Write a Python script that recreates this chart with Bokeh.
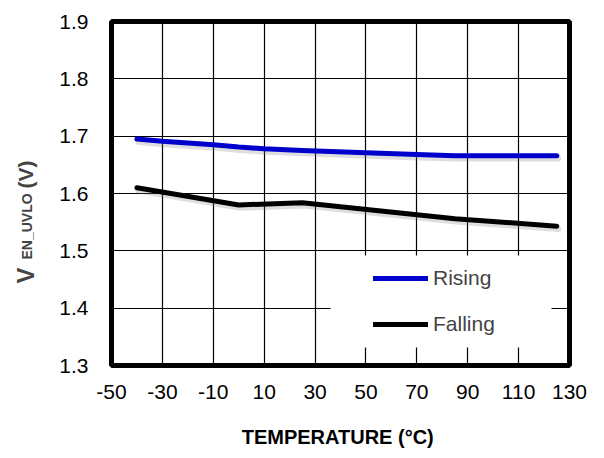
import math
from bokeh.plotting import figure
from bokeh.layouts import row
from bokeh.models import Range1d, FixedTicker, Label, Legend, BoxAnnotation
from bokeh.embed import file_html
from bokeh.resources import INLINE

# ---- data ----
temps_rising = [-40, -30, -10, 0, 10, 25, 50, 70, 85, 105, 125]
v_rising = [1.695, 1.691, 1.685, 1.681, 1.678, 1.675, 1.671, 1.668, 1.666, 1.666, 1.666]
temps_falling = [-40, 0, 25, 85, 125]
v_falling = [1.610, 1.580, 1.584, 1.556, 1.543]

x_ticks = [-50, -30, -10, 10, 30, 50, 70, 90, 110, 130]
x_tick_labels = ["-50", "-30", "-10", "10", "30", "50", "70", "90", "110", "130"]
y_ticks = [1.3, 1.4, 1.5, 1.6, 1.7, 1.8, 1.9]
y_tick_labels = ["1.3", "1.4", "1.5", "1.6", "1.7", "1.8", "1.9"]

series_names = ["Rising", "Falling"]
x_title = "TEMPERATURE  (°C)"
y_title_main, y_title_sub, y_title_unit = "V", "EN_UVLO", "(V)"

FONT = "Liberation Sans"
LEFT_W = 50

# ---- narrow strip holding the rotated y-axis title ----
strip = figure(width=LEFT_W, height=458, x_range=Range1d(0, 1), y_range=Range1d(0, 1),
               output_backend="svg", toolbar_location=None,
               x_axis_location=None, y_axis_location=None, min_border=0)
strip.outline_line_color = None
strip.background_fill_color = "white"
strip.border_fill_color = "white"
strip.xgrid.visible = False
strip.ygrid.visible = False
strip.add_layout(Label(x=25, y=82, x_units="screen", y_units="screen", text=y_title_main,
                       angle=math.pi / 2, text_align="left", text_baseline="alphabetic",
                       text_font=FONT, text_font_style="bold", text_font_size="24px"))
strip.add_layout(Label(x=26, y=106, x_units="screen", y_units="screen", text=y_title_sub,
                       angle=math.pi / 2, text_align="left", text_baseline="alphabetic",
                       text_font=FONT, text_font_style="bold", text_font_size="14px"))
strip.add_layout(Label(x=25, y=177, x_units="screen", y_units="screen", text=y_title_unit,
                       angle=math.pi / 2, text_align="left", text_baseline="alphabetic",
                       text_font=FONT, text_font_style="bold", text_font_size="21px"))

# ---- main chart ----
p = figure(width=604 - LEFT_W, height=458,
           x_range=Range1d(-50, 130), y_range=Range1d(1.3, 1.9),
           output_backend="svg", toolbar_location=None,
           min_border_left=111 - LEFT_W, min_border_right=35,
           min_border_top=21, min_border_bottom=93)
p.background_fill_color = "white"
p.border_fill_color = "white"
p.outline_line_color = "black"
p.outline_line_width = 5

p.xaxis.ticker = FixedTicker(ticks=x_ticks)
p.yaxis.ticker = FixedTicker(ticks=y_ticks)
p.xaxis.major_label_overrides = dict(zip(x_ticks, x_tick_labels))
p.yaxis.major_label_overrides = dict(zip(y_ticks, y_tick_labels))
for ax in (p.xaxis, p.yaxis):
    ax.axis_line_color = None
    ax.major_tick_line_color = None
    ax.minor_tick_line_color = None
    ax.major_tick_out = 0
    ax.major_tick_in = 0
    ax.major_label_text_font = FONT
    ax.major_label_text_font_size = "21px"
    ax.major_label_text_color = "black"
p.xaxis.major_label_standoff = 19
p.yaxis.major_label_standoff = 23

p.xaxis.axis_label = x_title
p.xaxis.axis_label_standoff = 24
p.xaxis.axis_label_text_font = FONT
p.xaxis.axis_label_text_font_style = "bold"
p.xaxis.axis_label_text_font_size = "20px"
p.xaxis.axis_label_text_color = "black"

p.xgrid.ticker = FixedTicker(ticks=x_ticks)
p.ygrid.ticker = FixedTicker(ticks=y_ticks)
for g in (p.xgrid, p.ygrid):
    g.grid_line_color = "black"
    g.grid_line_width = 1.2
    g.grid_line_alpha = 1.0

# soft drop shadows
p.line([t + 0.6 for t in temps_rising], [v - 0.005 for v in v_rising],
       line_color="#7a7a7a", line_alpha=0.25, line_width=6, line_cap="round", line_join="round")
p.line([t + 0.6 for t in temps_falling], [v - 0.005 for v in v_falling],
       line_color="#7a7a7a", line_alpha=0.25, line_width=6, line_cap="round", line_join="round")

r_rise = p.line(temps_rising, v_rising, line_color="#0000cc", line_width=5,
                line_cap="round", line_join="round")
r_fall = p.line(temps_falling, v_falling, line_color="black", line_width=5,
                line_cap="round", line_join="round")

# white area behind the legend (covers the grid)
p.add_layout(BoxAnnotation(left=219, right=440, bottom=18, top=110,
                           left_units="screen", right_units="screen",
                           bottom_units="screen", top_units="screen",
                           fill_color="white", fill_alpha=1.0, line_color=None))

legend = Legend(items=[(series_names[0], [r_rise]), (series_names[1], [r_fall])],
                location=(262, 28), padding=10, spacing=20, margin=0,
                glyph_width=55, glyph_height=26, label_height=26,
                label_standoff=5, label_width=108,
                label_text_font=FONT, label_text_font_size="21px",
                border_line_color=None, background_fill_color="white",
                background_fill_alpha=1.0)
p.add_layout(legend)

open("out.html", "w").write(file_html(row(strip, p), INLINE))
